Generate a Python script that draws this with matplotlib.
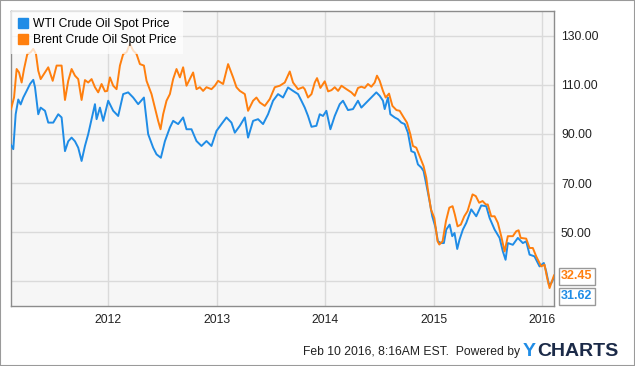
import matplotlib
matplotlib.use("Agg")
import matplotlib.pyplot as plt
from matplotlib.lines import Line2D
from matplotlib.patches import Rectangle

plt.rcParams["font.family"] = ["Liberation Sans", "DejaVu Sans"]

# decimal-year positions and prices
wti_t = [
    2011.107, 2011.128, 2011.150, 2011.174, 2011.196, 2011.220, 2011.251, 2011.282,
    2011.312, 2011.328, 2011.358, 2011.380, 2011.420, 2011.450, 2011.496, 2011.542,
    2011.573, 2011.604, 2011.634, 2011.665, 2011.696, 2011.726, 2011.757, 2011.788,
    2011.818, 2011.849, 2011.880, 2011.895, 2011.926, 2011.956, 2012.002, 2012.048,
    2012.094, 2012.140, 2012.186, 2012.232, 2012.278, 2012.331, 2012.370, 2012.416,
    2012.447, 2012.487, 2012.524, 2012.570, 2012.600, 2012.646, 2012.692, 2012.723,
    2012.769, 2012.815, 2012.861, 2012.907, 2012.953, 2012.999, 2013.045, 2013.091,
    2013.137, 2013.168, 2013.214, 2013.260, 2013.290, 2013.336, 2013.382, 2013.428,
    2013.474, 2013.520, 2013.566, 2013.612, 2013.658, 2013.704, 2013.750, 2013.781,
    2013.812, 2013.842, 2013.874, 2013.919, 2013.950, 2013.980, 2014.011, 2014.048,
    2014.088, 2014.134, 2014.164, 2014.210, 2014.256, 2014.302, 2014.333, 2014.364,
    2014.394, 2014.425, 2014.471, 2014.502, 2014.532, 2014.548, 2014.578, 2014.600,
    2014.640, 2014.670, 2014.701, 2014.732, 2014.762, 2014.793, 2014.824, 2014.854,
    2014.885, 2014.906, 2014.931, 2014.961, 2014.986, 2015.017, 2015.038, 2015.069,
    2015.093, 2015.115, 2015.146, 2015.170, 2015.191, 2015.216, 2015.237, 2015.268,
    2015.299, 2015.345, 2015.391, 2015.437, 2015.483, 2015.514, 2015.560, 2015.606,
    2015.636, 2015.661, 2015.682, 2015.728, 2015.774, 2015.820, 2015.851, 2015.882,
    2015.927, 2015.974, 2016.013, 2016.035, 2016.060, 2016.082, 2016.107,
]
wti_v = [
    85.5, 83.8, 98.0, 104.0, 102.0, 104.8, 107.5, 110.3,
    112.0, 109.0, 98.0, 100.7, 99.4, 94.6, 94.6, 98.0,
    96.7, 83.0, 87.0, 88.5, 87.0, 84.4, 79.0, 85.1,
    89.9, 96.0, 102.1, 96.0, 100.7, 95.3, 103.5, 99.4,
    97.3, 106.2, 106.9, 104.8, 102.1, 104.8, 89.9, 84.4,
    81.7, 80.3, 87.0, 92.6, 95.3, 94.0, 96.7, 91.9,
    91.9, 87.1, 85.1, 87.1, 85.1, 91.2, 94.0, 96.7,
    94.6, 90.5, 93.3, 96.7, 88.5, 95.3, 96.0, 94.0,
    98.0, 103.5, 106.2, 104.8, 108.9, 107.5, 106.2, 103.5,
    100.7, 97.3, 92.9, 93.3, 98.0, 97.3, 99.4, 91.9,
    97.3, 102.1, 103.5, 99.7, 100.1, 103.5, 100.7, 102.1,
    103.5, 104.8, 106.9, 105.5, 103.5, 100.1, 104.8, 98.0,
    96.7, 96.0, 94.6, 94.0, 90.5, 83.0, 82.4, 77.6,
    76.3, 74.9, 69.5, 62.7, 56.5, 51.8, 46.3, 45.6,
    45.6, 51.1, 53.1, 48.4, 49.7, 43.2, 47.0, 51.1,
    53.8, 59.3, 56.5, 60.9, 60.6, 55.8, 51.1, 47.7,
    42.2, 38.8, 45.6, 44.9, 47.7, 45.6, 46.3, 40.9,
    40.2, 36.1, 37.5, 34.1, 28.7, 29.3, 31.62,
]

brent_t = [
    2011.107, 2011.135, 2011.159, 2011.181, 2011.205, 2011.227, 2011.257, 2011.288,
    2011.312, 2011.337, 2011.358, 2011.380, 2011.420, 2011.450, 2011.491, 2011.527,
    2011.573, 2011.604, 2011.634, 2011.665, 2011.696, 2011.726, 2011.757, 2011.788,
    2011.818, 2011.849, 2011.880, 2011.910, 2011.941, 2011.972, 2011.993, 2012.018,
    2012.048, 2012.079, 2012.110, 2012.140, 2012.171, 2012.202, 2012.232, 2012.263,
    2012.294, 2012.331, 2012.355, 2012.401, 2012.432, 2012.462, 2012.484, 2012.508,
    2012.539, 2012.570, 2012.600, 2012.631, 2012.662, 2012.692, 2012.723, 2012.754,
    2012.784, 2012.815, 2012.846, 2012.876, 2012.907, 2012.953, 2012.984, 2013.014,
    2013.060, 2013.106, 2013.152, 2013.183, 2013.214, 2013.260, 2013.290, 2013.336,
    2013.367, 2013.398, 2013.444, 2013.490, 2013.536, 2013.582, 2013.628, 2013.674,
    2013.704, 2013.750, 2013.796, 2013.812, 2013.842, 2013.874, 2013.904, 2013.925,
    2013.956, 2013.996, 2014.027, 2014.058, 2014.088, 2014.119, 2014.150, 2014.196,
    2014.241, 2014.272, 2014.302, 2014.333, 2014.364, 2014.394, 2014.425, 2014.456,
    2014.477, 2014.502, 2014.532, 2014.557, 2014.588, 2014.619, 2014.656, 2014.686,
    2014.723, 2014.753, 2014.784, 2014.808, 2014.839, 2014.876, 2014.906, 2014.931,
    2014.943, 2014.974, 2015.005, 2015.035, 2015.051, 2015.081, 2015.112, 2015.143,
    2015.173, 2015.194, 2015.219, 2015.249, 2015.281, 2015.311, 2015.357, 2015.387,
    2015.418, 2015.449, 2015.479, 2015.497, 2015.529, 2015.560, 2015.590, 2015.621,
    2015.652, 2015.682, 2015.728, 2015.759, 2015.781, 2015.800, 2015.851, 2015.882,
    2015.912, 2015.943, 2015.989, 2016.020, 2016.041, 2016.066, 2016.087, 2016.107,
]
brent_v = [
    100.1, 104.8, 116.4, 115.0, 110.9, 116.4, 122.5, 123.2,
    124.6, 122.5, 115.7, 112.3, 115.0, 117.1, 111.6, 117.8,
    117.8, 103.8, 111.6, 116.4, 113.7, 112.3, 103.8, 111.9,
    110.9, 112.3, 109.0, 106.9, 110.3, 107.3, 107.5, 113.0,
    109.6, 108.2, 117.8, 122.5, 123.2, 126.6, 123.9, 122.5,
    118.4, 117.8, 111.6, 106.2, 100.7, 95.3, 91.9, 98.0,
    103.5, 106.2, 112.3, 116.4, 113.0, 117.1, 109.6, 112.3,
    115.0, 108.2, 109.0, 107.5, 109.0, 108.2, 109.6, 111.6,
    110.3, 118.4, 113.0, 109.0, 107.5, 106.2, 99.4, 103.5,
    104.8, 102.8, 101.4, 104.2, 109.0, 109.6, 110.9, 115.4,
    110.9, 108.2, 109.0, 108.2, 104.8, 106.2, 110.9, 112.7,
    108.7, 111.4, 107.3, 107.8, 109.0, 107.5, 109.6, 108.2,
    106.9, 105.5, 108.7, 109.2, 108.7, 110.3, 109.2, 110.9,
    113.7, 111.6, 107.5, 104.8, 106.4, 101.4, 99.7, 99.4,
    96.7, 94.6, 89.9, 85.1, 84.4, 80.3, 76.9, 72.2,
    68.1, 59.3, 55.8, 46.3, 45.0, 46.3, 54.5, 60.0,
    60.6, 57.2, 52.4, 53.1, 56.5, 58.6, 65.4, 64.7,
    62.0, 62.7, 61.3, 61.3, 56.5, 56.5, 53.8, 48.4,
    42.2, 48.4, 48.4, 50.4, 50.8, 47.7, 47.4, 43.6,
    43.6, 40.2, 36.1, 36.8, 32.0, 27.3, 30.0, 32.45,
]

series_names = ["WTI Crude Oil Spot Price", "Brent Crude Oil Spot Price"]
year_ticks = [2012, 2013, 2014, 2015, 2016]
price_ticks = [30, 50, 70, 90, 110, 130]

BLUE = "#1f8ce6"
ORANGE = "#ff7f0e"
GRID = "#dadada"
FRAME = "#8c8c8c"

fig = plt.figure(figsize=(6.35, 3.66), dpi=100)
ax = fig.add_axes([11 / 635, 1 - 306 / 366, 543 / 635, 295 / 366])
ax.set_facecolor("#f6f6f6")

ax.plot(wti_t, wti_v, color=BLUE, lw=1.4, zorder=3)
ax.plot(brent_t, brent_v, color=ORANGE, lw=1.4, zorder=3)

ax.set_xlim(2011.107, 2016.107)
ax.set_ylim(20, 140)
ax.set_xticks(year_ticks)
ax.set_xticklabels([str(y) for y in year_ticks])
ax.set_yticks(price_ticks)
ax.set_yticklabels(["" if p == 30 else f"{p:.2f}" for p in price_ticks])
ax.yaxis.tick_right()
ax.tick_params(axis="both", length=0, labelsize=8.7, colors="#222222")
ax.tick_params(axis="x", pad=6)
ax.tick_params(axis="y", pad=5)
ax.grid(True, color=GRID, lw=1)
ax.set_axisbelow(True)
for s in ax.spines.values():
    s.set_color(FRAME)
    s.set_linewidth(1)

# square swatches like the original legend
handles = [Line2D([], [], ls="none", marker="s", ms=6.5, mfc=c, mec=c)
           for c in (BLUE, ORANGE)]
ax.legend(handles, series_names, loc="upper left", bbox_to_anchor=(0, 1),
          borderaxespad=0, frameon=True, fancybox=False, framealpha=0.75,
          edgecolor="none", facecolor="white", fontsize=8.7, handlelength=0.8,
          handletextpad=0.4, labelspacing=0.35, borderpad=0.6)

# end value tags
for t, v, c, dy in [(brent_t[-1], brent_v[-1], ORANGE, -1), (wti_t[-1], wti_v[-1], BLUE, -19)]:
    ax.annotate(f"{v:.2f}", xy=(t, v), xytext=(7, dy), textcoords="offset pixels",
                va="center", ha="left", fontsize=9, fontweight="bold", color=c,
                annotation_clip=False,
                bbox=dict(boxstyle="square,pad=0.2", fc="white", ec="#999999", lw=1))

fig.text(520 / 635, 1 - 352 / 366, "Feb 10 2016, 8:16AM EST.  Powered by",
         ha="right", va="center", fontsize=8.7, color="#222222")
fig.text(523 / 635, 1 - 351 / 366, "Y", ha="left", va="center", fontsize=14,
         fontweight="bold", color="#1f8ce6")
fig.text(537 / 635, 1 - 351 / 366, "CHARTS", ha="left", va="center", fontsize=14,
         fontweight="bold", color="#1b2a48")

fig.patches.append(Rectangle((0, 0), 1, 1, transform=fig.transFigure, fill=False,
                             ec="#9a9a9a", lw=1.5))

fig.savefig("out.png", dpi=100)
